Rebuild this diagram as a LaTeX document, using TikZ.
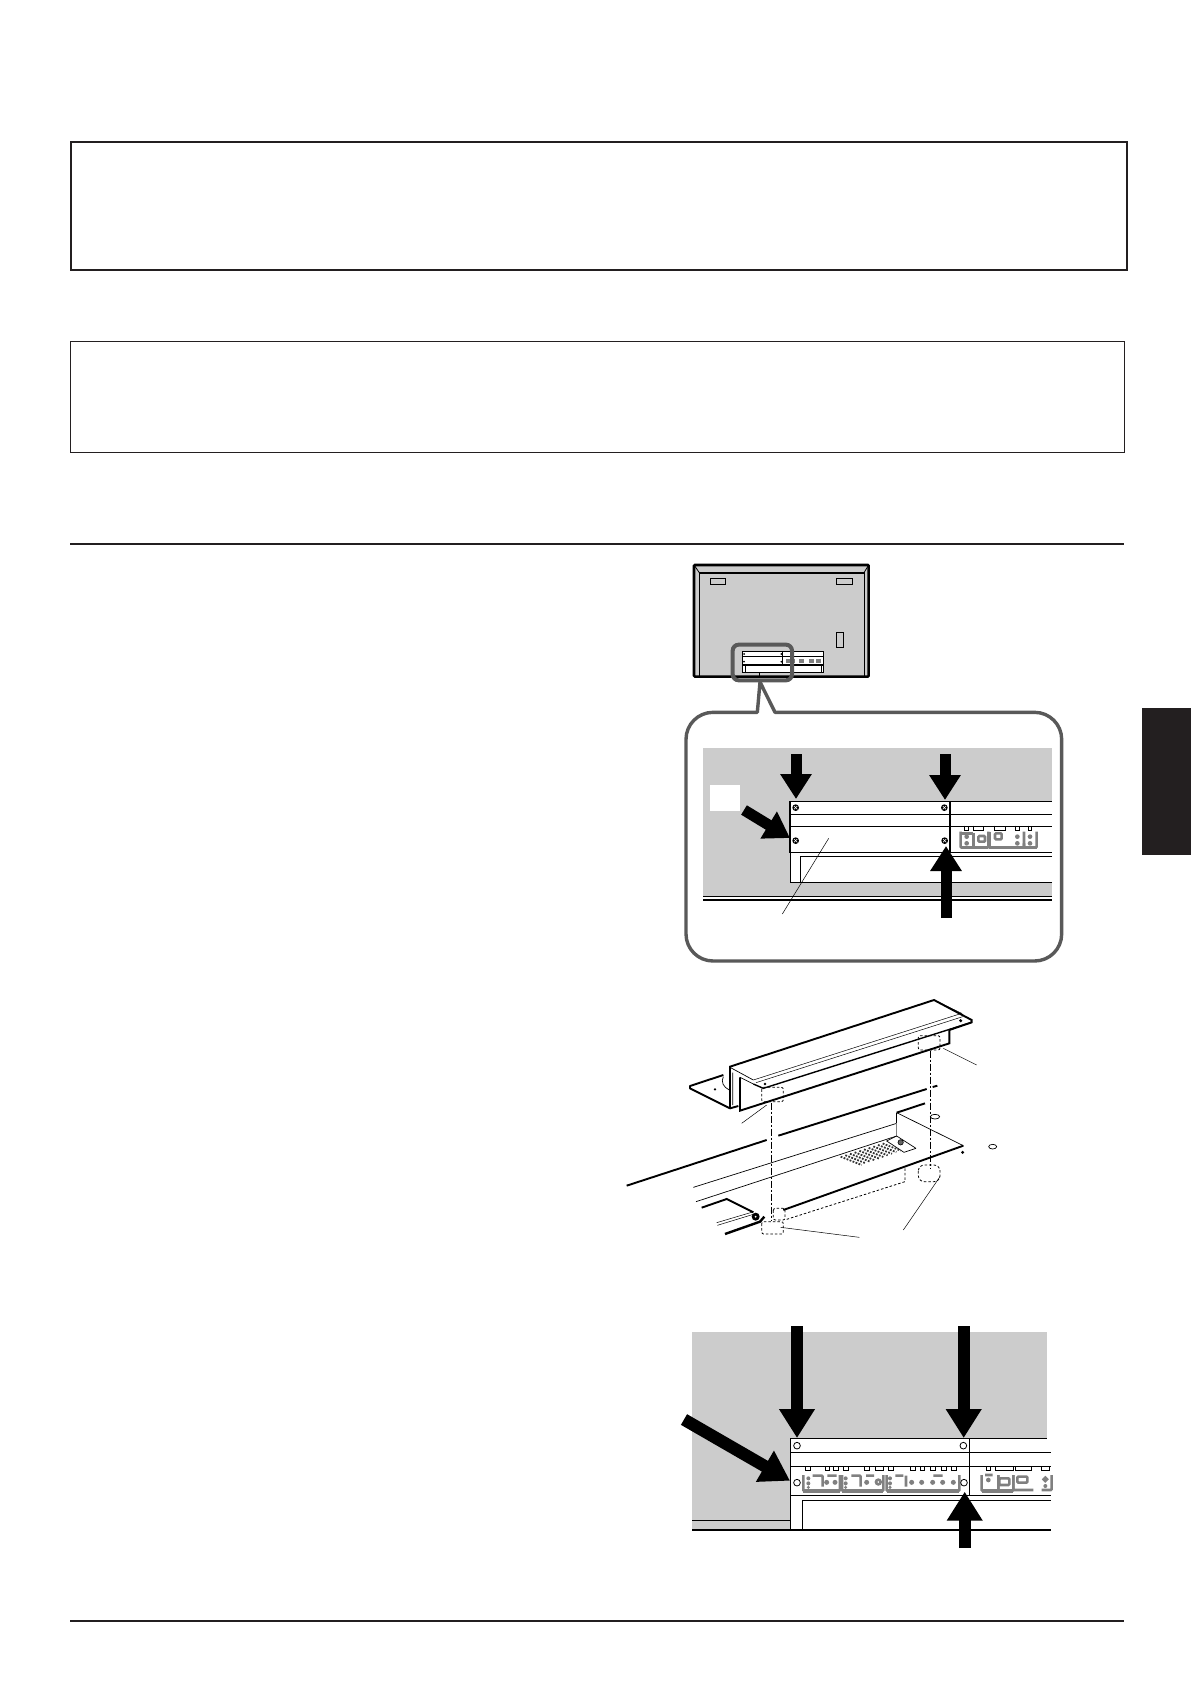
\documentclass[tikz,border=0pt]{standalone}
\usetikzlibrary{arrows.meta}
\definecolor{inkblack}{HTML}{231F20}
\definecolor{panelgray}{HTML}{CCCCCC}
\definecolor{portgray}{HTML}{808080}
\definecolor{ringgray}{HTML}{595959}
\tikzset{
  smallarrow/.style={black,line width=11pt,-{Triangle[length=25pt,width=30pt]}},
  largearrow/.style={black,line width=12.3pt,-{Triangle[length=29pt,width=34pt]}},
  thickline/.style={black,line width=1.9pt},
  thinline/.style={black,line width=.7pt},
  leader/.style={black,line width=.5pt},
  hidden/.style={black,line width=.8pt,dash pattern=on 2.5pt off 2pt},
  axisline/.style={black,line width=.8pt,dash pattern=on 7pt off 2pt on 2pt off 2pt},
  port/.style={portgray,line width=2.6pt,rounded corners=1pt},
}
\newcommand{\portbay}[4]{\draw[port] (#1,#3) -- (#1,#4) -- (#2,#4) -- (#2,#3);
  \draw[portgray,line width=3.4pt] (#1,#4) -- (#2,#4);}
\begin{document}
\begin{tikzpicture}[x=1pt,y=-1pt]
\useasboundingbox (0,0) rectangle (1191,1685);
\fill[white] (0,0) rectangle (1191,1685);

% frames and rules
\draw[inkblack,line width=2pt] (71,142) rectangle (1127,270);
\draw[inkblack,line width=1pt] (70.5,341.3) rectangle (1124.5,452.3);
\draw[inkblack,line width=2pt] (70,544) -- (1124,544);
\draw[inkblack,line width=2pt] (70,1620.7) -- (1124,1620.7);
\fill[inkblack] (1142,708) rectangle (1191,855);

% back of the set
\begin{scope}[shift={(660,550)},scale=1/3]
  \draw[black,fill=panelgray,line width=2.6pt,rounded corners=1pt] (102,45) rectangle (626,380);
  \draw[black,line width=1pt] (118,378) -- (118,68) -- (612,68) -- (612,378);
  \draw[black,line width=2pt] (118,68) -- (612,68);
  \draw[black,line width=.8pt] (102,45) -- (118,68) (626,45) -- (612,68);
  \draw[black,line width=.7pt] (152,85) rectangle (197,104);
  \draw[black,line width=.7pt] (529,85) rectangle (578,104);
  \draw[black,line width=.7pt] (529,248) rectangle (551,292);
  \draw[black,fill=white,line width=.8pt] (247,305) rectangle (490,368);
  \draw[black,line width=.7pt] (247,318) -- (490,318);
  \draw[black,line width=1.2pt] (247,345) -- (490,345);
  \draw[black,line width=.7pt] (255,345) -- (255,368) (484,345) -- (484,368);
  \draw[black,line width=1.4pt] (247,305) rectangle (368,345);
  \foreach \x in {252,364} \foreach \y in {312,335} \fill[black] (\x,\y) circle (3);
  \foreach \x in {385,398,425,455,475} \fill[portgray] (\x-8,328) rectangle (\x+8,340);
  % magnifier
  \draw[ringgray,line width=4pt,rounded corners=6pt] (218,284) rectangle (396,391);
  \draw[black,line width=.5pt] (298,368) -- (298,384);
  \draw[ringgray,fill=white,line width=3.4pt,line join=round]
    (292,487) -- (300,396) -- (345,487) [rounded corners=27pt] -- (1205,487) -- (1205,1233) -- (78,1233) -- (78,487) [sharp corners] -- cycle;
  % enlarged panel
  \fill[panelgray] (129,595) rectangle (1176,1040);
  \draw[black,line width=.8pt] (129,1040) -- (1176,1040);
  \draw[black,line width=1.6pt] (129,1050) -- (1176,1050);
  \fill[white] (150,705) rectangle (240,783);
  \fill[white] (391,907) rectangle (1176,997);
  \draw[black,line width=.9pt] (1176,997) -- (391,997) -- (391,907);
  \draw[black,line width=.9pt] (1176,919) -- (421,919) -- (421,997);
  \fill[white] (390,755) rectangle (1176,907);
  \draw[black,line width=.9pt] (870,755) -- (1176,755) (870,793) -- (1176,793) (870,829) -- (1176,829) (870,907) -- (1176,907);
  \draw[black,line width=.8pt] (390,793) -- (870,793) (390,829) -- (870,829);
  \draw[black,line width=1.4pt] (390,755) rectangle (870,907);
  \foreach \x/\y in {407/773,853/773,407/872,854/872}{
    \fill[black] (\x,\y) circle (10);
    \draw[white,line width=.5pt] (\x-5,\y-5) -- (\x+5,\y+5) (\x-5,\y+5) -- (\x+5,\y-5);
  }
  % ports beside the panel
  \begin{scope}[shift={(180,690)}]
    \portbay{722}{805}{155}{203}
    \portbay{808}{912}{190}{203}
    \portbay{912}{950}{155}{203}
    \draw[port] (722,160) -- (760,160) (760,160) -- (760,200) (808,155) -- (808,203);
    \draw[port] (775,168) rectangle (795,185);
    \draw[port] (825,160) rectangle (845,178);
    \foreach \x in {740,892,930} \fill[portgray] (\x,170) circle (7) (\x,190) circle (7);
    \foreach \x/\w in {740/6,775/16,840/16,892/5,930/5} \draw[black,line width=.5pt] (\x-\w,137) -- (\x-\w,150) -- (\x+\w,150) -- (\x+\w,137);
  \end{scope}
  \draw[leader] (506,865) -- (367,1092);
\end{scope}
\coordinate (arrowAs) at (796,754);
\coordinate (arrowAe) at (796,799);
\coordinate (arrowBs) at (945,754);
\coordinate (arrowBe) at (945,800);
\coordinate (arrowCs) at (946,918);
\coordinate (arrowCe) at (946,846);
\coordinate (arrowDs) at (744,810);
\coordinate (arrowDe) at (790,838);
\foreach \a in {A,B,C,D} \draw[smallarrow] (arrow\a s) -- (arrow\a e);

% bracket on the chassis
\begin{scope}[shift={(610,980)},scale=1/3]
  % chassis
  \draw[thickline] (50,617) -- (470,480) (505,467) -- (950,327) (968,321) -- (982,317);
  \draw[thickline] (860,398) -- (945,370);
  \draw[thinline] (860,398) -- (860,430);
  \draw[thinline] (860,398) -- (1060,497);
  \draw[thickline] (1060,497) -- (520,690);
  \draw[thinline] (250,622) -- (860,430);
  \draw[thinline] (258,665) -- (860,468);
  \draw[black!50,line width=.7pt] (860,430) -- (860,468);
  \draw[thinline] (918,505) -- (882,517) -- (830,483) -- (860,468) -- (918,505);
  \draw[black,fill=black!60,line width=.6pt] (872,487) circle (8);
  \foreach \t in {0,...,9}
    \draw[black!80,line width=1.8pt,dash pattern=on 1.8pt off 1.4pt] ({692+14*\t},{530-4.4*\t}) -- ({755+13*\t},{555-4.8*\t});
  \draw[thinline] (975,410) ellipse (14 and 7);
  \draw[thinline] (1148,500) ellipse (12 and 7);
  \fill[black] (1058,517) circle (5);
  \draw[thickline] (275,683) -- (350,657) -- (430,697);
  \fill[black] (437,710) circle (12);
  \fill[white] (437,710) circle (3);
  \draw[black,line width=.5pt] (320,728) -- (428,696) (322,736) -- (430,703);
  \draw[black,line width=2.4pt] (345,762) -- (450,725) -- (463,710);
  % bracket
  \fill[white] (240,318) -- (345,283) -- (360,260) -- (972,60) -- (1085,120) -- (1085,127) -- (1018,150) -- (1018,190) -- (390,392) -- (360,385) -- cycle;
  \draw[thickline,line join=round] (340,285) -- (240,318) -- (240,325) -- (360,385) -- (385,378);
  \draw[thickline] (360,385) -- (360,260) -- (972,60) -- (1085,120) -- (1085,127) -- (1018,150) -- (1018,190) -- (390,392) -- (390,292);
  \draw[thinline] (368,278) -- (368,375) (360,262) -- (430,300) (390,292) -- (430,312);
  \draw[black,line width=.5pt] (430,300) -- (1055,100) -- (972,60);
  \draw[black,line width=.5pt] (438,308) -- (1058,110);
  \draw[black,line width=1.4pt] (430,312) -- (460,325) -- (1085,127);
  \draw[thinline] (340,290) .. controls (332,305) and (340,322) .. (358,330);
  \fill[black] (315,328) circle (4);
  \fill[black] (465,312) circle (4);
  \fill[black] (1052,122) circle (5);
  % hidden parts
  \draw[hidden,rounded corners=2pt] (455,322) rectangle (520,365);
  \draw[hidden,rounded corners=2pt] (925,167) rectangle (990,210);
  \draw[hidden,rounded corners=2pt] (490,685) rectangle (525,720);
  \draw[hidden,fill=white,rounded corners=2pt] (455,725) rectangle (520,762);
  \draw[hidden] (530,718) -- (885,605) -- (885,565);
  \draw[hidden,rounded corners=6pt] (925,555) rectangle (990,605);
  \draw[axisline] (483,368) -- (483,722);
  \draw[axisline] (960,212) -- (960,565);
  % leaders
  \draw[leader] (1000,205) -- (1100,255);
  \draw[leader] (470,375) -- (395,430);
  \draw[leader] (512,742) -- (748,772);
  \draw[leader] (990,590) -- (880,750);
\end{scope}

% panel with the mounting holes
\begin{scope}[shift={(670,1310)},scale=1/3]
  \fill[panelgray] (66,66) rectangle (1130,660);
  \draw[black,line width=.8pt] (66,632) -- (360,632);
  \fill[white] (360,385) rectangle (1142,660);
  \draw[black,line width=.8pt] (360,660) -- (360,385) -- (1130,385);
  \draw[black,line width=.8pt] (360,427) -- (1142,427) (360,468) -- (1142,468) (360,555) -- (1142,555);
  \draw[black,line width=.8pt] (898,385) -- (898,555);
  \draw[black,line width=.8pt] (397,660) -- (397,572) -- (1142,572);
  \draw[black,line width=1.6pt] (66,660) -- (1142,660);
  % ports
  \portbay{400}{510}{495}{543}
  \portbay{516}{640}{495}{543}
  \portbay{650}{868}{495}{543}
  \portbay{935}{985}{495}{543}
  \portbay{985}{1030}{495}{543}
  \draw[port] (1030,495) -- (1030,540) -- (1090,540);
  \draw[port] (1115,540) -- (1145,540) -- (1145,495);
  \draw[port] (428,497) -- (458,497) -- (458,530) (472,497) -- (500,497) (544,497) -- (572,497) -- (572,530) (588,497) -- (612,497) (676,497) -- (700,497) (708,497) -- (708,530) (790,497) -- (818,497) (945,495) -- (968,495);
  \foreach \x in {415,527,660} \fill[portgray] (\x,505) circle (6) (\x,520) circle (6) (\x,532) circle (5);
  \foreach \x in {470,495,590,725,755,788,818,850} \fill[portgray] (\x,517) circle (7.5);
  \draw[port] (625,516) circle (7);
  \fill[portgray] (955,510) circle (7);
  \draw[port] (988,505) rectangle (1018,525);
  \draw[port] (1042,500) rectangle (1072,518);
  \fill[portgray] (1126,528) circle (6);
  \draw[port] (1126,508) circle (5);
  \foreach \x/\w in {413/7,472/7,498/7,528/7,591/7,628/13,662/7,728/7,757/7,788/7,821/7,851/7,955/7,1003/27,1060/25,1125/12}
    \draw[black,line width=.6pt] (\x-\w,468) -- (\x-\w,481) -- (\x+\w,481) -- (\x+\w,468);
  % holes
  \foreach \x/\y in {381/407,880/407,381/518,882/518}
    \draw[black,fill=white,line width=.8pt] (\x,\y) circle (10);
\end{scope}
\coordinate (holeAs) at (797,1326);
\coordinate (holeAe) at (797,1438);
\coordinate (holeBs) at (963.7,1326);
\coordinate (holeBe) at (963.7,1438);
\coordinate (holeCs) at (964.7,1548);
\coordinate (holeCe) at (964.7,1491.7);
\coordinate (holeDs) at (684,1419.5);
\coordinate (holeDe) at (790,1480.7);
\foreach \a in {A,B,C,D} \draw[largearrow] (hole\a s) -- (hole\a e);
\end{tikzpicture}
\end{document}
